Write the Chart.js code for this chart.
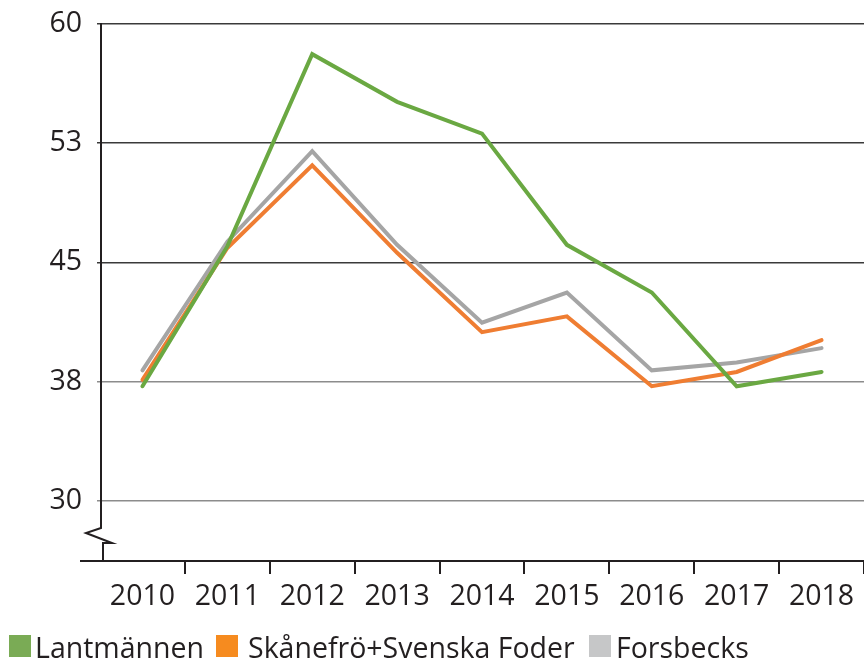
<!DOCTYPE html>
<html>
<head>
<meta charset="utf-8">
<script src="https://cdn.jsdelivr.net/npm/chart.js@4/dist/chart.umd.min.js"></script>
<style>
  html, body { margin: 0; padding: 0; background: #ffffff; }
  #wrap { position: relative; width: 864px; height: 664px; overflow: hidden; }
  #c { position: absolute; left: 0; top: 0; }
  .lg-box { position: absolute; width: 22px; height: 22px; top: 635px; }
  .lg-txt { position: absolute; top: 633px; font-family: "Open Sans", sans-serif; font-size: 28.5px; line-height: 28px; color: #231f20; white-space: nowrap; }
</style>
</head>
<body>
<div id="wrap">
  <canvas id="c" width="864" height="664"></canvas>
  <div id="legend"></div>
</div>
<script>
// ---- data ----
const years = ['2010', '2011', '2012', '2013', '2014', '2015', '2016', '2017', '2018'];
const seriesNames = ['Lantmännen', 'Skånefrö+Svenska Foder', 'Forsbecks'];
const lantmannen = [37.2, 46.0, 58.1, 55.1, 53.1, 46.1, 43.1, 37.2, 38.1];
const skanefro   = [37.6, 45.9, 51.1, 45.6, 40.6, 41.6, 37.2, 38.1, 40.1];
const forsbecks  = [38.2, 46.3, 52.0, 46.1, 41.2, 43.1, 38.2, 38.7, 39.6];
const yTickValues = [30, 37.5, 45, 52.5, 60];

// ---- styles ----
const lineColors = ['#6aa842', '#ef7d32', '#a5a5a5'];
const legendColors = ['#7aab55', '#f68b1f', '#c6c7c8'];
const textColor = '#231f20';
const FONT = '"Open Sans", sans-serif';

// Custom axis lines with a y-axis break symbol
const axisPlugin = {
  id: 'axisBreak',
  beforeDatasetsDraw(chart) {
    const ctx = chart.ctx;
    const y = chart.scales.y;
    const left = chart.chartArea.left + 1;
    const bottom = chart.chartArea.bottom;
    const top = y.getPixelForValue(60);
    ctx.save();
    ctx.strokeStyle = textColor;
    ctx.lineWidth = 2;
    ctx.lineJoin = 'miter';
    // y axis with break
    ctx.beginPath();
    ctx.moveTo(left, top - 1);
    ctx.lineTo(left, bottom - 33);
    ctx.lineTo(left - 15, bottom - 28);
    ctx.lineTo(left + 11, bottom - 18);
    ctx.lineTo(left + 2, bottom - 18);
    ctx.lineTo(left + 2, bottom);
    ctx.stroke();
    // x axis
    ctx.beginPath();
    ctx.moveTo(80, bottom);
    ctx.lineTo(chart.width, bottom);
    ctx.stroke();
    ctx.restore();
  }
};

const ctx = document.getElementById('c').getContext('2d');
const chart = new Chart(ctx, {
  type: 'line',
  data: {
    labels: years,
    datasets: [
      { label: seriesNames[0], data: lantmannen, borderColor: lineColors[0], backgroundColor: lineColors[0] },
      { label: seriesNames[1], data: skanefro, borderColor: lineColors[1], backgroundColor: lineColors[1] },
      { label: seriesNames[2], data: forsbecks, borderColor: lineColors[2], backgroundColor: lineColors[2] }
    ]
  },
  options: {
    responsive: false,
    animation: false,
    devicePixelRatio: 1,
    layout: { padding: { top: 24, right: 0, bottom: 0, left: 0 } },
    elements: {
      line: { borderWidth: 4, tension: 0, borderCapStyle: 'round', borderJoinStyle: 'miter' },
      point: { radius: 0, hoverRadius: 0 }
    },
    plugins: {
      legend: { display: false },
      tooltip: { enabled: false }
    },
    scales: {
      x: {
        type: 'category',
        offset: true,
        border: { display: false },
        grid: {
          offset: true,
          drawOnChartArea: false,
          drawTicks: true,
          tickLength: 13,
          lineWidth: 2,
          color: (c) => (c.index === 0 ? 'rgba(0,0,0,0)' : textColor)
        },
        ticks: {
          color: textColor,
          font: { family: FONT, size: 28.5 },
          padding: 6,
          maxRotation: 0,
          autoSkip: false
        },
        afterFit(scale) { scale.height = 103; }
      },
      y: {
        min: 26.2,
        max: 60,
        border: { display: false },
        afterBuildTicks(scale) {
          scale.ticks = yTickValues.map(v => ({ value: v }));
        },
        grid: {
          drawTicks: true,
          tickLength: 3,
          lineWidth: 1.5,
          color: (c) => {
            const v = c.tick ? c.tick.value : 0;
            return v >= 45 ? '#3a3a3a' : '#8c8c8c';
          }
        },
        ticks: {
          color: textColor,
          font: { family: FONT, size: 28.5, lineHeight: 0.6 },
          padding: 15,
          callback: (v) => String(Math.round(v))
        },
        afterFit(scale) { scale.width = 100; }
      }
    }
  },
  plugins: [axisPlugin]
});

// HTML legend built from the series names
const legendEl = document.getElementById('legend');
const boxLefts = [9, 216, 589];
const textLefts = [35, 248, 616];
seriesNames.forEach((name, i) => {
  const b = document.createElement('div');
  b.className = 'lg-box';
  b.style.left = boxLefts[i] + 'px';
  b.style.background = legendColors[i];
  legendEl.appendChild(b);
  const t = document.createElement('div');
  t.className = 'lg-txt';
  t.style.left = textLefts[i] + 'px';
  t.textContent = name;
  legendEl.appendChild(t);
});
</script>
</body>
</html>
